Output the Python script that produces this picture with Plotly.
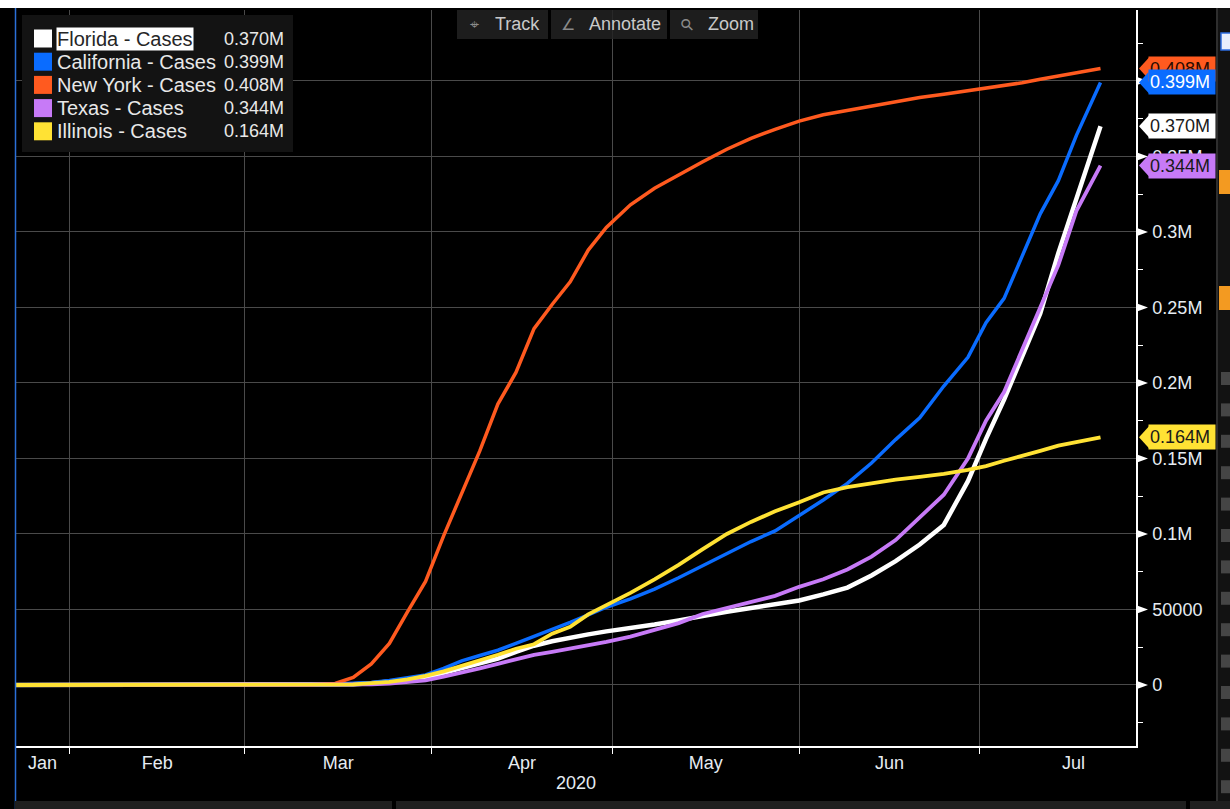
import plotly.graph_objects as go
import pandas as pd

# ---------------- data ----------------
dates = ["2020-01-22", "2020-03-01", "2020-03-12", "2020-03-16", "2020-03-19", "2020-03-22",
         "2020-03-25", "2020-03-28", "2020-03-31",
         "2020-04-03", "2020-04-06", "2020-04-09", "2020-04-12", "2020-04-15", "2020-04-18",
         "2020-04-21", "2020-04-24", "2020-04-27", "2020-04-30",
         "2020-05-04", "2020-05-08", "2020-05-12", "2020-05-16", "2020-05-20", "2020-05-24", "2020-05-28",
         "2020-06-01", "2020-06-05", "2020-06-09", "2020-06-13", "2020-06-17", "2020-06-21",
         "2020-06-25", "2020-06-29",
         "2020-07-02", "2020-07-05", "2020-07-08", "2020-07-11", "2020-07-14", "2020-07-17", "2020-07-21"]

florida = [0, 0, 0, 150, 500, 1200, 2000, 3500, 5000,
           8000, 11500, 14500, 17500, 22000, 26000, 29000, 31500, 33500, 35500,
           37500, 40000, 42800, 46000, 48500, 51000, 53500,
           56000, 60000, 64500, 72500, 82000, 93000, 106000, 135000,
           163000, 189000, 217000, 246000, 286000, 322000, 370000]

california = [0, 0, 250, 600, 1000, 1700, 3000, 4800, 6700,
              11000, 16000, 19500, 23000, 27500, 32000, 36500, 41500, 46500, 51500,
              57000, 63500, 71000, 79000, 87500, 95000, 102000,
              112000, 122500, 133500, 147000, 162500, 177000, 198000, 217000,
              240000, 256000, 284000, 312000, 334000, 364000, 399000]

new_york = [0, 0, 200, 1000, 5000, 14000, 27500, 48500, 68600,
            98800, 127000, 155000, 186000, 207000, 236000, 252000, 267000, 288000, 303000,
            318000, 329000, 338000, 346500, 354800, 362000, 368000,
            373400, 377600, 380500, 383300, 386100, 389000, 391200, 393500,
            395200, 397000, 398800, 401100, 403300, 405600, 408200]

texas = [0, 0, 0, 80, 200, 500, 1000, 1800, 3000,
         5500, 8000, 11000, 14000, 17000, 20000, 22000, 24000, 26500, 28500,
         32000, 36500, 41000, 47000, 51000, 55000, 59000,
         65000, 70000, 76500, 85000, 96000, 111000, 126000, 150000,
         175000, 194000, 222000, 250000, 278000, 314000, 344000]

illinois = [0, 0, 0, 100, 400, 1200, 2000, 3800, 6000,
            9000, 12500, 16000, 20000, 24000, 27000, 34000, 38500, 46800, 53000,
            61000, 70000, 79500, 90000, 100000, 108000, 115000,
            121000, 127500, 131000, 133500, 136000, 137800, 139800, 142500,
            145000, 148500, 151500, 155000, 158500, 161000, 164000]

series_names = ["Florida - Cases", "California - Cases", "New York - Cases",
                "Texas - Cases", "Illinois - Cases"]
month_names = ["Jan", "Feb", "Mar", "Apr", "May", "Jun", "Jul"]
y_tick_vals = [0, 50000, 100000, 150000, 200000, 250000, 300000, 350000, 400000]
y_tick_text = ["0", "50000", "0.1M", "0.15M", "0.2M", "0.25M", "0.3M", "0.35M", "0.4M"]
y_minor_vals = [-25000, 25000, 75000, 125000, 175000, 225000, 275000, 325000, 375000, 425000]
year_label = "2020"
toolbar_items = [("\u2316", "Track"), ("\u2220", "Annotate"), ("\u26b2", "Zoom")]

# ---------------- styling ----------------
WHITE = "#ffffff"
BLUE = "#0a6cff"
ORANGE = "#ff5a1f"
PURPLE = "#c77af7"
YELLOW = "#ffe234"
GRID = "#4a4a4a"
TXT = "#e6ecf2"
FONT = "Liberation Sans"

W, H = 1230, 809
L, R, T, B = 15, 94, 10, 63
PW, PH = W - L - R, H - T - B
Y0, Y1 = -40400, 447000
VPP = (Y1 - Y0) / PH  # value per pixel


def px_x(px):
    return (px - L) / PW


def px_y(py):
    return (H - B - py) / PH


x_start = pd.Timestamp("2020-01-22 21:00")
x_end = pd.Timestamp("2020-07-26 21:20")

month_starts = pd.date_range("2020-01-01", "2020-08-01", freq="MS")
label_pos = []
for i in range(len(month_names)):
    s = max(month_starts[i], x_start)
    e = month_starts[i + 1]
    label_pos.append(s + (e - s) / 2)
grid_months = [m for m in month_starts if x_start < m < x_end]

colors = [WHITE, BLUE, ORANGE, PURPLE, YELLOW]
widths = [4.5, 3.5, 3.5, 3.8, 3.8]
values = [florida, california, new_york, texas, illinois]
tag_text_colors = ["#1a1a1a", "#ffffff", "#2a0a00", "#1a1a1a", "#1a1a1a"]

fig = go.Figure()
for name, vals, c, w in zip(series_names, values, colors, widths):
    fig.add_trace(go.Scatter(x=dates, y=vals, mode="lines", name=name,
                             line=dict(color=c, width=w), showlegend=False,
                             hoverinfo="skip"))

shapes = []
annotations = []

# triangles at major y ticks
for v in y_tick_vals:
    dv = 4 * VPP
    shapes.append(dict(type="path", xref="paper", yref="y", layer="above",
                       path=f"M {px_x(1137)},{v + dv} L {px_x(1148)},{v} L {px_x(1137)},{v - dv} Z",
                       fillcolor="white", line=dict(width=0)))

# value tags at right
tag_order = [2, 1, 0, 3, 4]  # orange first so blue overlaps it
for i in tag_order:
    v = values[i][-1]
    h = 11 * VPP
    shapes.append(dict(type="path", xref="paper", yref="y", layer="above",
                       path=(f"M {px_x(1139)},{v} L {px_x(1149)},{v + h} L {px_x(1150)},{v + h} "
                             f"L {px_x(1150)},{v - h} L {px_x(1149)},{v - h} Z"),
                       fillcolor=colors[i], line=dict(width=0)))
for i in tag_order:
    v = values[i][-1]
    annotations.append(dict(x=px_x(1148), xref="paper", y=v, yref="y",
                            xanchor="left", yanchor="middle", showarrow=False,
                            text=f"{v / 1e6:.3f}M", align="left", width=64, height=22,
                            bgcolor=colors[i], borderpad=1,
                            font=dict(family=FONT, size=18, color=tag_text_colors[i])))

# legend box
shapes.append(dict(type="rect", xref="paper", yref="paper", layer="above",
                   x0=px_x(22), x1=px_x(293), y0=px_y(152), y1=px_y(15),
                   fillcolor="#131313", line=dict(width=0)))
for i, (name, vals, c) in enumerate(zip(series_names, values, colors)):
    cy = 38.5 + 23.2 * i
    shapes.append(dict(type="rect", xref="paper", yref="paper", layer="above",
                       x0=px_x(34), x1=px_x(52), y0=px_y(cy + 9), y1=px_y(cy - 9),
                       fillcolor=c, line=dict(width=0)))
    hl = i == 0
    annotations.append(dict(x=px_x(56), xref="paper", y=px_y(cy), yref="paper",
                            xanchor="left", yanchor="middle", showarrow=False,
                            text=name, bgcolor="#ffffff" if hl else None, borderpad=0,
                            font=dict(family=FONT, size=20, color="#262626" if hl else "#e8e8e8")))
    annotations.append(dict(x=px_x(222), xref="paper", y=px_y(cy), yref="paper",
                            xanchor="left", yanchor="middle", showarrow=False,
                            text=f"{vals[-1] / 1e6:.3f}M",
                            font=dict(family=FONT, size=18, color="#e8e8e8")))

# toolbar
btn_x = [(457, 548), (551, 667), (670, 758)]
for (x0, x1), (icon, label) in zip(btn_x, toolbar_items):
    shapes.append(dict(type="rect", xref="paper", yref="paper", layer="above",
                       x0=px_x(x0), x1=px_x(x1), y0=px_y(39), y1=px_y(10),
                       fillcolor="rgba(34,34,34,0.85)", line=dict(width=0)))
    annotations.append(dict(x=px_x(x0 + 17), xref="paper", y=px_y(24.5), yref="paper",
                            xanchor="center", yanchor="middle", showarrow=False, text=icon,
                            textangle=-45 if label == "Zoom" else 0,
                            font=dict(family="DejaVu Sans", size=16, color="#8a8a8a")))
    annotations.append(dict(x=px_x(x0 + 36), xref="paper", y=px_y(24.5), yref="paper",
                            xanchor="left", yanchor="middle", showarrow=False, text=label,
                            font=dict(family=FONT, size=18, color="#c9c9c9")))

# year label
annotations.append(dict(x=0.5, xref="paper", y=px_y(783), yref="paper", xanchor="center",
                        yanchor="middle", showarrow=False, text=year_label,
                        font=dict(family=FONT, size=18, color=TXT)))

# frame decorations (screenshot chrome)
shapes.append(dict(type="rect", xref="paper", yref="paper", layer="above",
                   x0=px_x(0), x1=px_x(W), y0=px_y(8), y1=px_y(0),
                   fillcolor="white", line=dict(width=0)))
shapes.append(dict(type="line", xref="paper", yref="paper", layer="above",
                   x0=px_x(15.5), x1=px_x(15.5), y0=px_y(809), y1=px_y(8),
                   line=dict(color="#2b6fd8", width=1.5)))
for x0, x1 in [(15, 392), (396, 1186), (1190, 1230)]:
    shapes.append(dict(type="rect", xref="paper", yref="paper", layer="above",
                       x0=px_x(x0), x1=px_x(x1), y0=px_y(809), y1=px_y(801),
                       fillcolor="#1f1f1f", line=dict(width=0)))
shapes.append(dict(type="rect", xref="paper", yref="paper", layer="above",
                   x0=px_x(1217), x1=px_x(1230), y0=px_y(801), y1=px_y(8),
                   fillcolor="#121212", line=dict(width=0)))
shapes.append(dict(type="line", xref="paper", yref="paper", layer="above",
                   x0=px_x(1217), x1=px_x(1217), y0=px_y(801), y1=px_y(8),
                   line=dict(color="#2e2e2e", width=2)))
shapes.append(dict(type="rect", xref="paper", yref="paper", layer="above",
                   x0=px_x(1221), x1=px_x(1231), y0=px_y(50), y1=px_y(33),
                   fillcolor="#e8eefc", line=dict(color="#2d6cdf", width=1.5)))
for y0 in (170, 286):
    shapes.append(dict(type="rect", xref="paper", yref="paper", layer="above",
                       x0=px_x(1219), x1=px_x(1231), y0=px_y(y0 + 24), y1=px_y(y0),
                       fillcolor="#f39a21", line=dict(width=0)))
for k in range(14):
    yy = 372 + 31.4 * k
    shapes.append(dict(type="rect", xref="paper", yref="paper", layer="above",
                       x0=px_x(1221), x1=px_x(1231), y0=px_y(yy + 13), y1=px_y(yy),
                       fillcolor="#454545", line=dict(width=0)))

fig.update_layout(
    width=W, height=H,
    margin=dict(l=L, r=R, t=T, b=B, pad=0),
    paper_bgcolor="black", plot_bgcolor="black",
    showlegend=False,
    shapes=shapes, annotations=annotations,
    xaxis=dict(type="date", range=[x_start, x_end],
               tickmode="array", tickvals=label_pos, ticktext=month_names,
               ticks="",
               tickfont=dict(family=FONT, size=18, color=TXT),
               showgrid=False, zeroline=False,
               showline=True, linecolor="white", linewidth=1.5,
               minor=dict(tickmode="array", tickvals=grid_months, ticks="outside",
                          ticklen=6, tickcolor="white", showgrid=True,
                          gridcolor=GRID, gridwidth=1.3),
               fixedrange=True),
    yaxis=dict(side="right", range=[Y0, Y1],
               tickmode="array", tickvals=y_tick_vals, ticktext=y_tick_text,
               ticks="outside", ticklen=11, tickcolor="rgba(0,0,0,0)",
               tickfont=dict(family=FONT, size=18, color=TXT),
               showgrid=True, gridcolor=GRID, gridwidth=1.3, zeroline=False,
               showline=True, linecolor="white", linewidth=1.5,
               minor=dict(tickmode="array", tickvals=y_minor_vals, ticks="outside",
                          ticklen=5, tickcolor="white", showgrid=False),
               fixedrange=True),
)

fig.write_html("out.html", config={"displayModeBar": False},
               post_script="document.body.style.margin='0px';document.body.style.background='black';")
